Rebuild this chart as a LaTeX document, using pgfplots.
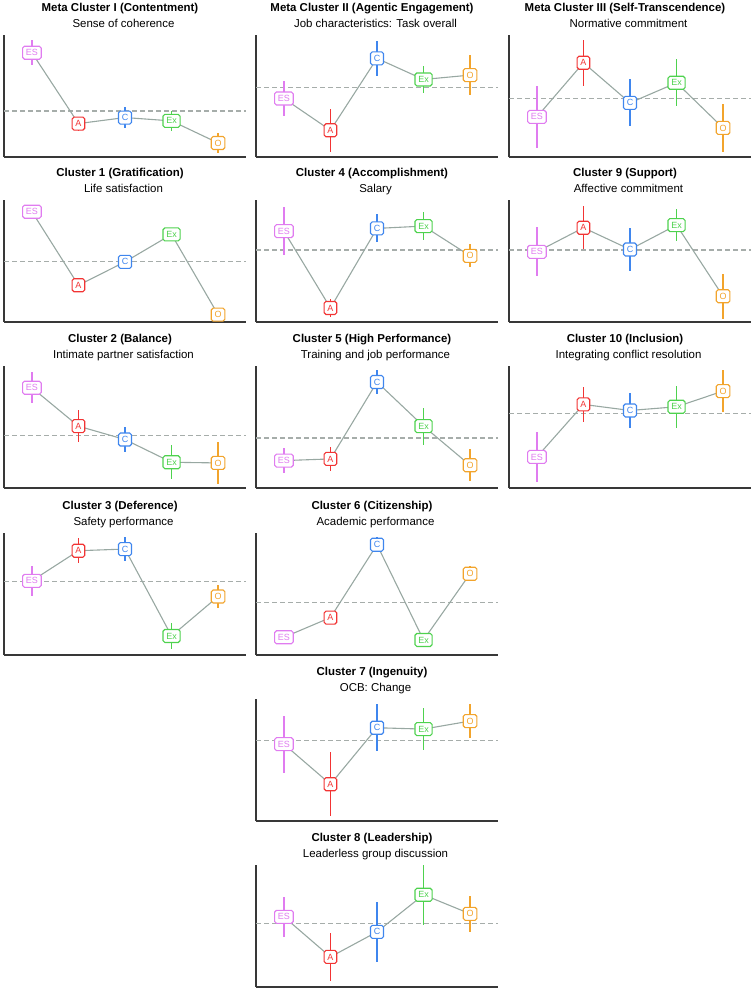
\documentclass[border=0pt]{standalone}
\usepackage{fontspec}
\setmainfont{Liberation Sans}
\usepackage{pgfplots}
\pgfplotsset{compat=1.18}

\definecolor{cES}{HTML}{E07CF0}
\definecolor{cA}{HTML}{F23434}
\definecolor{cC}{HTML}{3F86EE}
\definecolor{cEx}{HTML}{4ED24E}
\definecolor{cO}{HTML}{F2A42C}
\definecolor{conn}{HTML}{98A8A2}
\definecolor{refc}{HTML}{A6ADAA}

\pgfplotsset{
  panel/.style={scale only axis, width=242bp, height=122bp, anchor=north west,
    xmin=-0.6, xmax=4.6, ymin=0, ymax=365,
    axis x line*=bottom, axis y line*=left, xtick=\empty, ytick=\empty,
    axis line style={line width=1.5bp, black!78}, clip=false},
  refl/.style={color=refc, line width=1.3bp, dash pattern=on 5bp off 3bp, mark=none},
  connl/.style={color=conn, line width=1.1bp, mark=none},
  pt/.style 2 args={color=#1, mark=none,
    error bars/.cd, y dir=both, y explicit, error mark=none,
      error bar style={draw=#1, line width=1.5bp},
    /pgfplots/.cd,
    nodes near coords={#2},
    every node near coord/.append style={anchor=center, draw=#1, text=#1, fill=white,
      rounded corners=1.8bp, line width=1.1bp, font=\fontsize{9}{9}\selectfont,
      inner xsep=3.3bp, inner ysep=0pt, minimum height=13bp, minimum width=12.5bp}},
}
\tikzset{
  t1/.style={anchor=base, yshift=24bp, xshift=-5bp, font=\fontsize{11.5}{13}\selectfont\bfseries},
  t2/.style={anchor=base, yshift=8bp, xshift=-1.5bp, font=\fontsize{11.5}{13}\selectfont},
}

\begin{document}
\begin{tikzpicture}
\useasboundingbox (0,0) rectangle (753bp,-993bp);

% ---- column 1 ----
\begin{axis}[panel, at={(4bp,-35bp)}]
  \addplot[refl] coordinates {(-0.6,138) (4.6,138)};
  \addplot[connl] coordinates {(0,312) (1,100) (2,118) (3,108) (4,42)};
  \addplot[pt={cES}{ES}] coordinates {(0,312) +- (0,37)};
  \addplot[pt={cA}{A}] coordinates {(1,100) +- (0,21)};
  \addplot[pt={cC}{C}] coordinates {(2,118) +- (0,32)};
  \addplot[pt={cEx}{Ex}] coordinates {(3,108) +- (0,31)};
  \addplot[pt={cO}{O}] coordinates {(4,42) +- (0,29)};
  \node[t1] at (rel axis cs:0.5,1) {Meta Cluster I (Contentment)};
  \node[t2] at (rel axis cs:0.5,1) {Sense of coherence};
\end{axis}

\begin{axis}[panel, at={(4bp,-200bp)}]
  \addplot[refl] coordinates {(-0.6,180) (4.6,180)};
  \addplot[connl] coordinates {(0,330) (1,110) (2,180) (3,262) (4,22)};
  \addplot[pt={cES}{ES}] coordinates {(0,330) +- (0,0)};
  \addplot[pt={cA}{A}] coordinates {(1,110) +- (0,0)};
  \addplot[pt={cC}{C}] coordinates {(2,180) +- (0,0)};
  \addplot[pt={cEx}{Ex}] coordinates {(3,262) +- (0,0)};
  \addplot[pt={cO}{O}] coordinates {(4,22) +- (0,0)};
  \node[t1] at (rel axis cs:0.5,1) {Cluster 1 (Gratification)};
  \node[t2] at (rel axis cs:0.5,1) {Life satisfaction};
\end{axis}

\begin{axis}[panel, at={(4bp,-366bp)}]
  \addplot[refl] coordinates {(-0.6,157) (4.6,157)};
  \addplot[connl] coordinates {(0,300) (1,185) (2,145) (3,77) (4,75)};
  \addplot[pt={cES}{ES}] coordinates {(0,300) +- (0,46)};
  \addplot[pt={cA}{A}] coordinates {(1,185) +- (0,47)};
  \addplot[pt={cC}{C}] coordinates {(2,145) +- (0,37)};
  \addplot[pt={cEx}{Ex}] coordinates {(3,77) +- (0,51)};
  \addplot[pt={cO}{O}] coordinates {(4,75) +- (0,63)};
  \node[t1] at (rel axis cs:0.5,1) {Cluster 2 (Balance)};
  \node[t2] at (rel axis cs:0.5,1) {Intimate partner satisfaction};
\end{axis}

\begin{axis}[panel, at={(4bp,-533bp)}]
  \addplot[refl] coordinates {(-0.6,219) (4.6,219)};
  \addplot[connl] coordinates {(0,222) (1,312) (2,317) (3,57) (4,175)};
  \addplot[pt={cES}{ES}] coordinates {(0,222) +- (0,44)};
  \addplot[pt={cA}{A}] coordinates {(1,312) +- (0,38)};
  \addplot[pt={cC}{C}] coordinates {(2,317) +- (0,37)};
  \addplot[pt={cEx}{Ex}] coordinates {(3,57) +- (0,38)};
  \addplot[pt={cO}{O}] coordinates {(4,175) +- (0,33)};
  \node[t1] at (rel axis cs:0.5,1) {Cluster 3 (Deference)};
  \node[t2] at (rel axis cs:0.5,1) {Safety performance};
\end{axis}

% ---- column 2 ----
\begin{axis}[panel, at={(256bp,-35bp)}]
  \addplot[refl] coordinates {(-0.6,207) (4.6,207)};
  \addplot[connl] coordinates {(0,175) (1,80) (2,295) (3,232) (4,245)};
  \addplot[pt={cES}{ES}] coordinates {(0,175) +- (0,52)};
  \addplot[pt={cA}{A}] coordinates {(1,80) +- (0,65)};
  \addplot[pt={cC}{C}] coordinates {(2,295) +- (0,52)};
  \addplot[pt={cEx}{Ex}] coordinates {(3,232) +- (0,41)};
  \addplot[pt={cO}{O}] coordinates {(4,245) +- (0,60)};
  \node[t1] at (rel axis cs:0.5,1) {Meta Cluster II (Agentic Engagement)};
  \node[t2] at (rel axis cs:0.5,1) {Job characteristics: Task overall};
\end{axis}

\begin{axis}[panel, at={(256bp,-200bp)}]
  \addplot[refl] coordinates {(-0.6,215) (4.6,215)};
  \addplot[connl] coordinates {(0,272) (1,42) (2,280) (3,287) (4,198)};
  \addplot[pt={cES}{ES}] coordinates {(0,272) +- (0,73)};
  \addplot[pt={cA}{A}] coordinates {(1,42) +- (0,27)};
  \addplot[pt={cC}{C}] coordinates {(2,280) +- (0,42)};
  \addplot[pt={cEx}{Ex}] coordinates {(3,287) +- (0,41)};
  \addplot[pt={cO}{O}] coordinates {(4,198) +- (0,34)};
  \node[t1] at (rel axis cs:0.5,1) {Cluster 4 (Accomplishment)};
  \node[t2] at (rel axis cs:0.5,1) {Salary};
\end{axis}

\begin{axis}[panel, at={(256bp,-366bp)}]
  \addplot[refl] coordinates {(-0.6,150) (4.6,150)};
  \addplot[connl] coordinates {(0,82) (1,87) (2,317) (3,185) (4,68)};
  \addplot[pt={cES}{ES}] coordinates {(0,82) +- (0,37)};
  \addplot[pt={cA}{A}] coordinates {(1,87) +- (0,36)};
  \addplot[pt={cC}{C}] coordinates {(2,317) +- (0,36)};
  \addplot[pt={cEx}{Ex}] coordinates {(3,185) +- (0,55)};
  \addplot[pt={cO}{O}] coordinates {(4,68) +- (0,48)};
  \node[t1] at (rel axis cs:0.5,1) {Cluster 5 (High Performance)};
  \node[t2] at (rel axis cs:0.5,1) {Training and job performance};
\end{axis}

\begin{axis}[panel, at={(256bp,-533bp)}]
  \addplot[refl] coordinates {(-0.6,157) (4.6,157)};
  \addplot[connl] coordinates {(0,53) (1,112) (2,330) (3,45) (4,243)};
  \addplot[pt={cES}{ES}] coordinates {(0,53) +- (0,4)};
  \addplot[pt={cA}{A}] coordinates {(1,112) +- (0,4)};
  \addplot[pt={cC}{C}] coordinates {(2,330) +- (0,22)};
  \addplot[pt={cEx}{Ex}] coordinates {(3,45) +- (0,22)};
  \addplot[pt={cO}{O}] coordinates {(4,243) +- (0,22)};
  \node[t1] at (rel axis cs:0.5,1) {Cluster 6 (Citizenship)};
  \node[t2] at (rel axis cs:0.5,1) {Academic performance};
\end{axis}

\begin{axis}[panel, at={(256bp,-699bp)}]
  \addplot[refl] coordinates {(-0.6,241) (4.6,241)};
  \addplot[connl] coordinates {(0,230) (1,110) (2,279) (3,275) (4,299)};
  \addplot[pt={cES}{ES}] coordinates {(0,230) +- (0,85)};
  \addplot[pt={cA}{A}] coordinates {(1,110) +- (0,95)};
  \addplot[pt={cC}{C}] coordinates {(2,279) +- (0,70)};
  \addplot[pt={cEx}{Ex}] coordinates {(3,275) +- (0,64)};
  \addplot[pt={cO}{O}] coordinates {(4,299) +- (0,52)};
  \node[t1] at (rel axis cs:0.5,1) {Cluster 7 (Ingenuity)};
  \node[t2] at (rel axis cs:0.5,1) {OCB: Change};
\end{axis}

\begin{axis}[panel, at={(256bp,-865bp)}]
  \addplot[refl] coordinates {(-0.6,189) (4.6,189)};
  \addplot[connl] coordinates {(0,210) (1,90) (2,165) (3,276) (4,219)};
  \addplot[pt={cES}{ES}] coordinates {(0,210) +- (0,60)};
  \addplot[pt={cA}{A}] coordinates {(1,90) +- (0,72)};
  \addplot[pt={cC}{C}] coordinates {(2,165) +- (0,90)};
  \addplot[pt={cEx}{Ex}] coordinates {(3,276) +- (0,90)};
  \addplot[pt={cO}{O}] coordinates {(4,219) +- (0,54)};
  \node[t1] at (rel axis cs:0.5,1) {Cluster 8 (Leadership)};
  \node[t2] at (rel axis cs:0.5,1) {Leaderless group discussion};
\end{axis}

% ---- column 3 ----
\begin{axis}[panel, at={(509bp,-35bp)}]
  \addplot[refl] coordinates {(-0.6,175) (4.6,175)};
  \addplot[connl] coordinates {(0,120) (1,282) (2,162) (3,222) (4,87)};
  \addplot[pt={cES}{ES}] coordinates {(0,120) +- (0,93)};
  \addplot[pt={cA}{A}] coordinates {(1,282) +- (0,69)};
  \addplot[pt={cC}{C}] coordinates {(2,162) +- (0,70)};
  \addplot[pt={cEx}{Ex}] coordinates {(3,222) +- (0,70)};
  \addplot[pt={cO}{O}] coordinates {(4,87) +- (0,72)};
  \node[t1] at (rel axis cs:0.5,1) {Meta Cluster III (Self-Transcendence)};
  \node[t2] at (rel axis cs:0.5,1) {Normative commitment};
\end{axis}

\begin{axis}[panel, at={(509bp,-200bp)}]
  \addplot[refl] coordinates {(-0.6,215) (4.6,215)};
  \addplot[connl] coordinates {(0,210) (1,282) (2,217) (3,290) (4,77)};
  \addplot[pt={cES}{ES}] coordinates {(0,210) +- (0,73)};
  \addplot[pt={cA}{A}] coordinates {(1,282) +- (0,65)};
  \addplot[pt={cC}{C}] coordinates {(2,217) +- (0,65)};
  \addplot[pt={cEx}{Ex}] coordinates {(3,290) +- (0,49)};
  \addplot[pt={cO}{O}] coordinates {(4,77) +- (0,67)};
  \node[t1] at (rel axis cs:0.5,1) {Cluster 9 (Support)};
  \node[t2] at (rel axis cs:0.5,1) {Affective commitment};
\end{axis}

\begin{axis}[panel, at={(509bp,-366bp)}]
  \addplot[refl] coordinates {(-0.6,222) (4.6,222)};
  \addplot[connl] coordinates {(0,93) (1,250) (2,232) (3,243) (4,290)};
  \addplot[pt={cES}{ES}] coordinates {(0,93) +- (0,76)};
  \addplot[pt={cA}{A}] coordinates {(1,250) +- (0,53)};
  \addplot[pt={cC}{C}] coordinates {(2,232) +- (0,53)};
  \addplot[pt={cEx}{Ex}] coordinates {(3,243) +- (0,63)};
  \addplot[pt={cO}{O}] coordinates {(4,290) +- (0,63)};
  \node[t1] at (rel axis cs:0.5,1) {Cluster 10 (Inclusion)};
  \node[t2] at (rel axis cs:0.5,1) {Integrating conflict resolution};
\end{axis}
\end{tikzpicture}
\end{document}
